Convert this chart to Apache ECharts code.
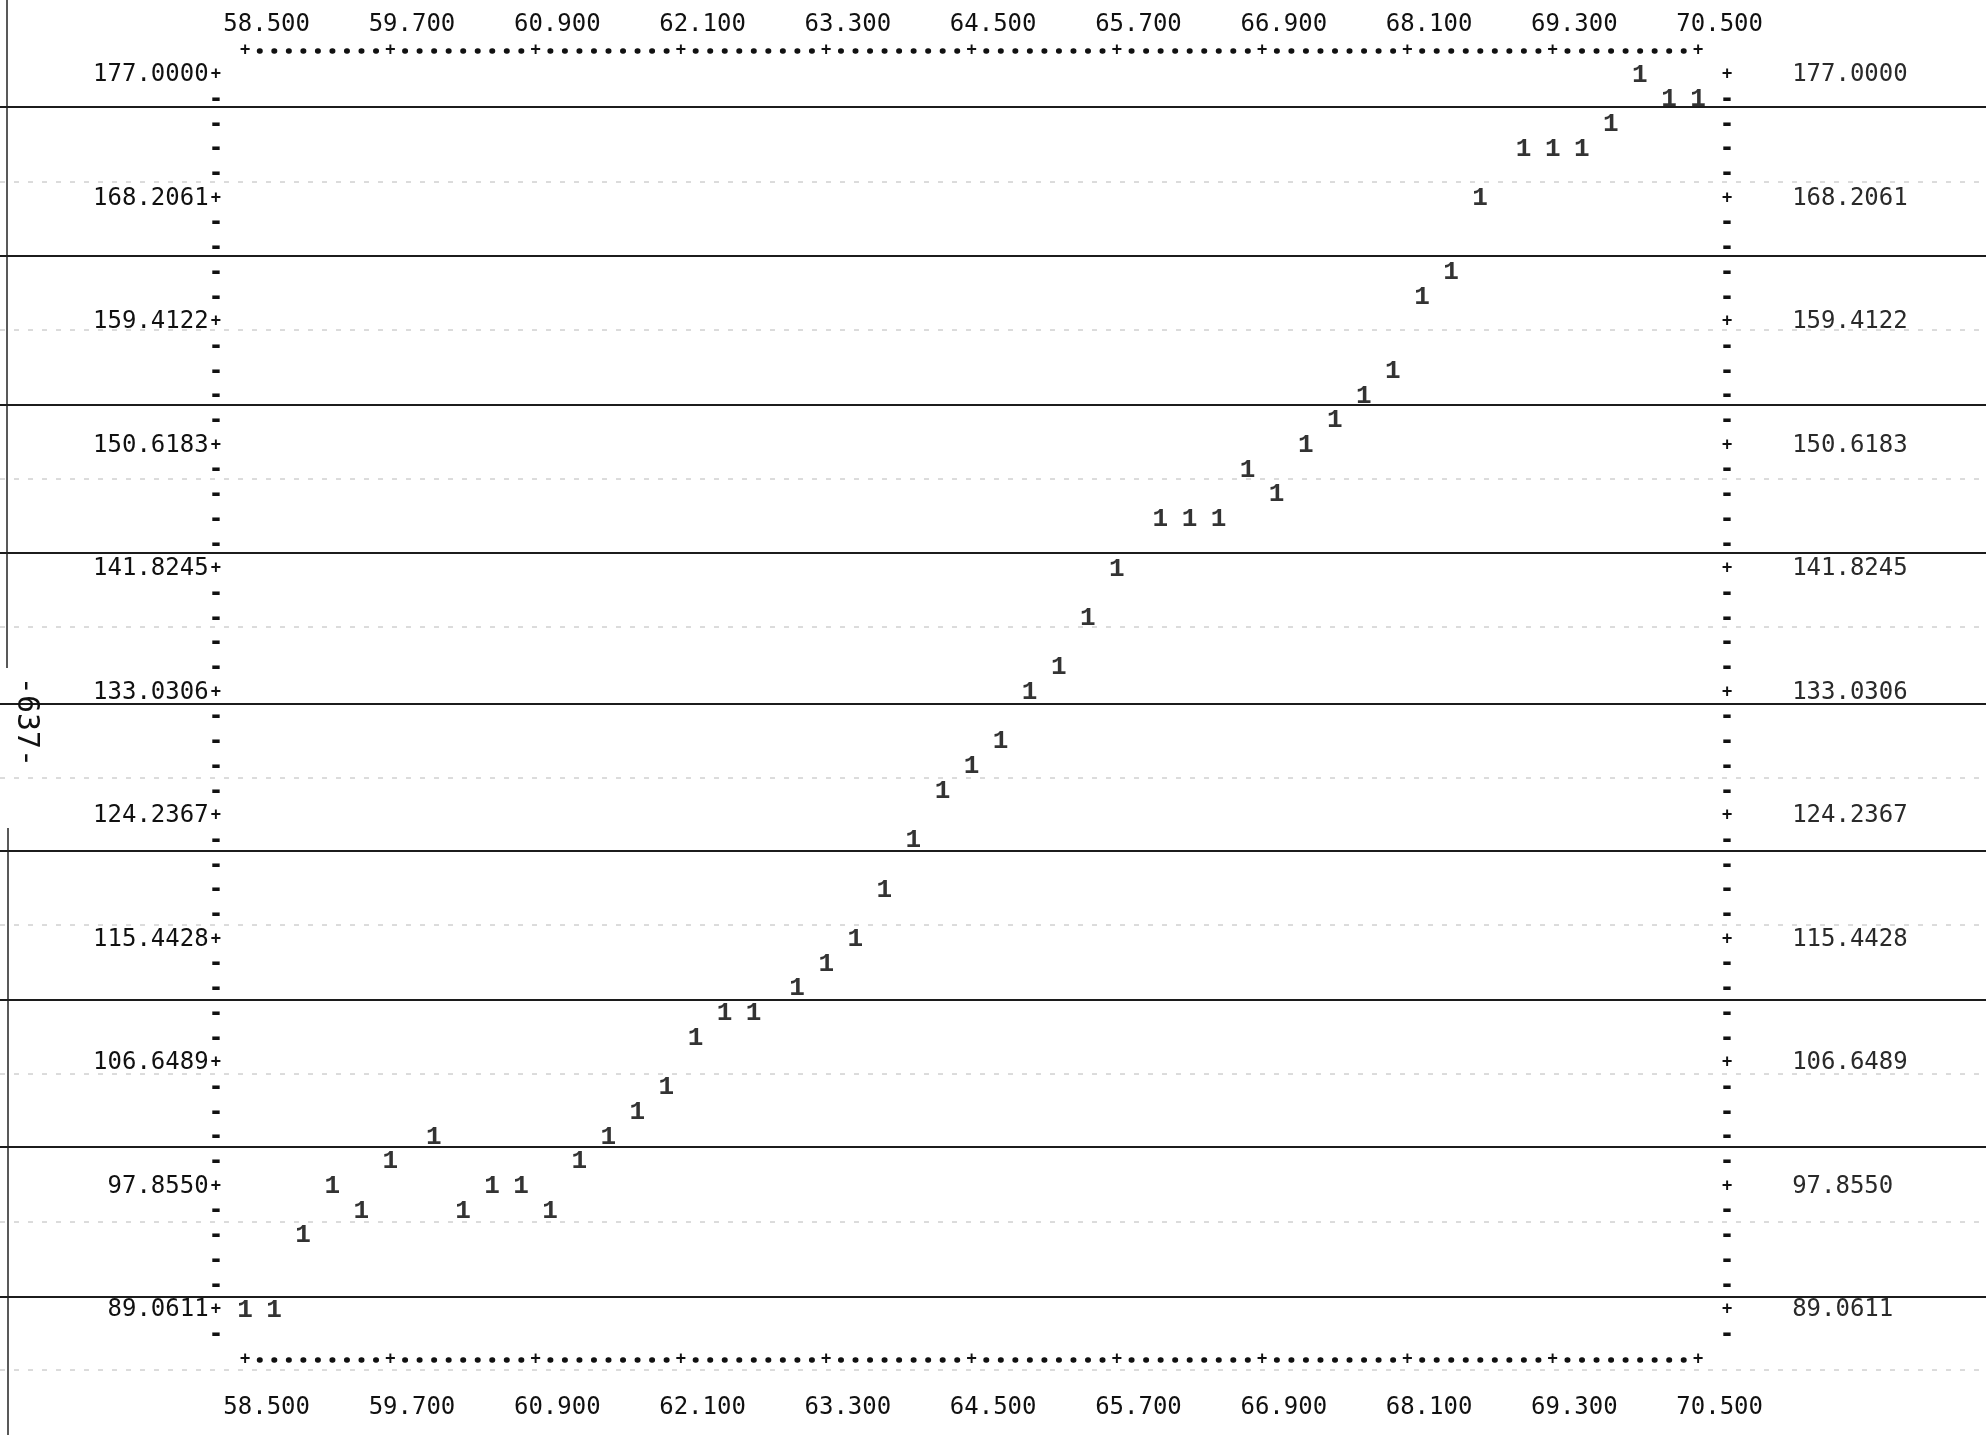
<!DOCTYPE html>
<html>
<head>
<meta charset="utf-8">
<script src="https://cdn.jsdelivr.net/npm/echarts/dist/echarts.min.js"></script>
<style>
html,body{margin:0;padding:0;background:#fff;}
#chart{width:1986px;height:1435px;}
</style>
</head>
<body>
<div id="chart"></div>
<script>
// ---- data (printer column / row positions) ----
const xValues = [58.50, 58.74, 58.98, 59.22, 59.46, 59.70, 60.06, 60.30, 60.54, 60.78,
                 61.02, 61.26, 61.50, 61.74, 61.98, 62.22, 62.46, 62.70, 63.06, 63.30,
                 63.54, 63.78, 64.02, 64.26, 64.50, 64.74, 64.98, 65.22, 65.46, 65.70,
                 66.06, 66.30, 66.54, 66.78, 67.02, 67.26, 67.50, 67.74, 67.98, 68.22,
                 68.46, 68.70, 69.06, 69.30, 69.54, 69.78, 70.02, 70.26, 70.50];
const yValues = [89.06, 89.06, 94.34, 97.86, 96.10, 99.61, 101.37, 96.10, 97.86, 97.86,
                 96.10, 99.61, 101.37, 103.13, 104.89, 108.41, 110.17, 110.17, 111.93, 113.68,
                 115.44, 118.96, 122.48, 126.00, 127.75, 129.51, 133.03, 134.79, 138.31, 141.82,
                 145.34, 145.34, 145.34, 148.86, 147.10, 150.62, 152.38, 154.14, 155.89, 161.17,
                 162.93, 168.21, 171.72, 171.72, 171.72, 173.48, 177.00, 175.24, 175.24];

const xTickValues = [58.5, 59.7, 60.9, 62.1, 63.3, 64.5, 65.7, 66.9, 68.1, 69.3, 70.5];
const xTickLabels = ['58.500','59.700','60.900','62.100','63.300','64.500','65.700','66.900','68.100','69.300','70.500'];
const yTickValues = [177.0000, 168.2061, 159.4122, 150.6183, 141.8245, 133.0306, 124.2367, 115.4428, 106.6489, 97.8550, 89.0611];
const yTickLabels = ['177.0000','168.2061','159.4122','150.6183','141.8245','133.0306','124.2367','115.4428','106.6489','97.8550','89.0611'];
const sideNote = '-637-';

// ---- printer geometry ----
const COL = 14.53;          // px per printer column
const ROWS_PER_TICK = 5;
const yTop = yTickValues[0];
const yBottom = yTickValues[yTickValues.length - 1];
const yStep = (yTop - yBottom) / ((yTickValues.length - 1) * ROWS_PER_TICK);
const nRows = (yTickValues.length - 1) * ROWS_PER_TICK + 2; // rows 0..51
const rowValues = [];
for (let r = 0; r < nRows; r++) rowValues.push(yTop - r * yStep);
const yMin = yBottom - 2 * yStep;
const yMax = yTop + yStep;

const MONO = '"DejaVu Sans Mono", "Liberation Mono", monospace';
const INK = '#111111';

function rowOf(v) { return Math.round((yTop - v) / yStep); }
function xLabelOf(v) {
  let best = 0;
  for (let i = 1; i < xTickValues.length; i++)
    if (Math.abs(xTickValues[i] - v) < Math.abs(xTickValues[best] - v)) best = i;
  return xTickLabels[best];
}

// dotted border: dots on every column except the '+' columns
const dotPattern = [];
for (let i = 0; i < 8; i++) dotPattern.push(0.5, COL - 0.5);
dotPattern.push(0.5, 2 * COL - 0.5);
const borderLine = {
  show: true, onZero: false,
  lineStyle: { color: INK, width: 5.5, type: dotPattern, dashOffset: 9 * COL, cap: 'round' }
};
const richCommon = {
  p: { fontFamily: MONO, fontSize: 17, fontWeight: 'bold', color: INK, width: COL, align: 'center' },
  m: { fontFamily: MONO, fontSize: 24, fontWeight: 'bold', color: INK, width: COL, align: 'center' },
  n: { fontFamily: MONO, fontSize: 24, color: INK }
};

const chart = echarts.init(document.getElementById('chart'), null, { renderer: 'canvas' });

const option = {
  backgroundColor: '#ffffff',
  animation: false,
  grid: { left: 245, right: 288, top: 50.3, bottom: 75.6, containLabel: false, outerBoundsMode: 'none' },
  xAxis: [
    {
      type: 'value', position: 'bottom', min: 58.5, max: 70.5,
      splitLine: { show: false }, axisTick: { show: false },
      axisLine: borderLine,
      axisLabel: {
        show: true, customValues: xTickValues, margin: 24, align: 'center', verticalAlign: 'middle',
        formatter: v => '{p|+}\n{n|   ' + xLabelOf(v) + '}',
        rich: {
          p: Object.assign({}, richCommon.p, { lineHeight: 48 }),
          n: Object.assign({}, richCommon.n, { lineHeight: 48 })
        }
      }
    },
    {
      type: 'value', position: 'top', min: 58.5, max: 70.5,
      splitLine: { show: false }, axisTick: { show: false },
      axisLine: borderLine,
      axisLabel: {
        show: true, customValues: xTickValues, margin: 13, align: 'center', verticalAlign: 'middle',
        formatter: v => '{n|   ' + xLabelOf(v) + '}\n{p|+}',
        rich: {
          p: Object.assign({}, richCommon.p, { lineHeight: 26 }),
          n: Object.assign({}, richCommon.n, { lineHeight: 26 })
        }
      }
    }
  ],
  yAxis: [
    {
      type: 'value', position: 'left', min: yMin, max: yMax,
      splitLine: { show: false }, axisTick: { show: false }, axisLine: { show: false },
      axisLabel: {
        show: true, customValues: rowValues, margin: 21.8, align: 'right', verticalAlign: 'middle',
        formatter: v => {
          const r = rowOf(v);
          if (r % ROWS_PER_TICK === 0 && r / ROWS_PER_TICK < yTickLabels.length)
            return '{n|' + yTickLabels[r / ROWS_PER_TICK] + '}{p|+}';
          return '{m|-}';
        },
        rich: richCommon
      }
    },
    {
      type: 'value', position: 'right', min: yMin, max: yMax,
      splitLine: { show: false }, axisTick: { show: false }, axisLine: { show: false },
      axisLabel: {
        show: true, customValues: rowValues, margin: 21.8, align: 'left', verticalAlign: 'middle',
        formatter: v => {
          const r = rowOf(v);
          if (r % ROWS_PER_TICK === 0 && r / ROWS_PER_TICK < yTickLabels.length)
            return '{p|+}{n|    ' + yTickLabels[r / ROWS_PER_TICK] + '}';
          return '{m|-}';
        },
        rich: {
          p: richCommon.p, m: richCommon.m,
          n: Object.assign({}, richCommon.n, { color: '#2a2a2a' })
        }
      }
    }
  ],
  series: [
    {
      type: 'scatter', xAxisIndex: 0, yAxisIndex: 0,
      data: xValues.map((x, i) => [x, yValues[i]]),
      symbol: 'circle', symbolSize: 1,
      itemStyle: { color: 'rgba(0,0,0,0)' },
      silent: true,
      label: {
        show: true, position: 'inside', formatter: '1',
        fontFamily: '"Liberation Mono", "DejaVu Sans Mono", monospace',
        fontSize: 26, fontWeight: 'bold', color: '#000000'
      },
      emphasis: { disabled: true }
    }
  ]
};
chart.setOption(option);

// ---- paper decorations of the scanned printout (fold lines, margin rule, page number) ----
const foldY = [107, 256, 405, 553, 704, 851, 1000, 1147, 1297];
const faintY = [182, 330, 479, 627, 778, 925, 1074, 1222, 1370];
const graphics = [];
foldY.forEach(y => graphics.push({
  type: 'line', silent: true, z: -1,
  shape: { x1: 0, y1: y, x2: 1986, y2: y },
  style: { stroke: '#1c1c1c', lineWidth: 2 }
}));
faintY.forEach(y => graphics.push({
  type: 'line', silent: true, z: -1,
  shape: { x1: 0, y1: y, x2: 1986, y2: y },
  style: { stroke: '#b8b8b8', lineWidth: 1, lineDash: [5, 9] }
}));
graphics.push({ type: 'line', silent: true, shape: { x1: 7, y1: 0, x2: 7, y2: 668 }, style: { stroke: '#222', lineWidth: 1.5 } });
graphics.push({ type: 'line', silent: true, shape: { x1: 8, y1: 828, x2: 8, y2: 1435 }, style: { stroke: '#222', lineWidth: 1.5 } });
graphics.push({
  type: 'text', silent: true, x: 26, y: 722, rotation: -Math.PI / 2,
  style: { text: sideNote, font: '30px "DejaVu Sans Mono"', fill: INK, textAlign: 'center', textVerticalAlign: 'middle' }
});
chart.setOption({ graphic: graphics });
</script>
</body>
</html>
